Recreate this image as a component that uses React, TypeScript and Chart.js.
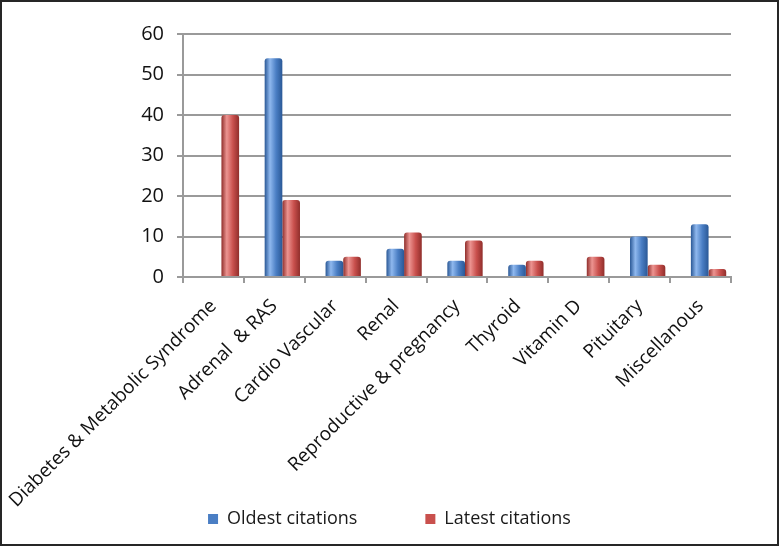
import React, { useEffect, useRef } from 'react';
import { Chart, registerables } from 'chart.js';

Chart.register(...registerables);

const categories = [
  'Diabetes & Metabolic Syndrome',
  'Adrenal  & RAS',
  'Cardio Vascular',
  'Renal',
  'Reproductive & pregnancy',
  'Thyroid',
  'Vitamin D',
  'Pituitary',
  'Miscellanous',
];
const oldestCitations = [0, 54, 4, 7, 4, 3, 0, 10, 13];
const latestCitations = [40, 19, 5, 11, 9, 4, 5, 3, 2];
const yTicks = [0, 10, 20, 30, 40, 50, 60];

const FONT = "'Open Sans', 'DejaVu Sans', sans-serif";
const CAT_PCT = 0.58;
const BLUE = { base: '#4A7EC4', light: '#8FB8EE', dark: '#2A5896' };
const RED = { base: '#C9504D', light: '#EC9491', dark: '#902E2B' };

function cylinderFill(ctx: any, pal: { base: string; light: string; dark: string }, dsIndex: number) {
  const chart = ctx.chart;
  const xs = chart.scales && chart.scales.xb;
  if (!xs || ctx.dataIndex === undefined || !isFinite(xs.width) || xs.width <= 0) return pal.base;
  const c = xs.getPixelForValue(ctx.dataIndex);
  const cat = xs.width / categories.length;
  const bw = (cat * CAT_PCT) / 2;
  const left = dsIndex === 0 ? c - bw : c;
  const g = chart.ctx.createLinearGradient(left, 0, left + bw, 0);
  g.addColorStop(0, pal.dark);
  g.addColorStop(0.3, pal.light);
  g.addColorStop(0.65, pal.base);
  g.addColorStop(1, pal.dark);
  return g;
}

const depthShift = {
  id: 'depthShift',
  afterLayout(chart: any) {
    const s = chart.scales.xb;
    if (!s) return;
    s.left += 8;
    s.right += 8;
    s.configure();
  },
};

const customLegend = {
  id: 'customLegend',
  afterDraw(chart: any) {
    const ctx = chart.ctx;
    ctx.save();
    ctx.font = `18px ${FONT}`;
    ctx.textBaseline = 'middle';
    const box = 10;
    const gapText = 9;
    const gapItems = 68;
    const items = chart.data.datasets.map((d: any) => ({ label: d.label, color: d.legendColor }));
    const widths = items.map((it: any) => box + gapText + ctx.measureText(it.label).width);
    const total = widths.reduce((a: number, b: number) => a + b, 0) + gapItems * (items.length - 1);
    let x = (chart.width - total) / 2;
    const y = chart.height - 25;
    items.forEach((it: any, i: number) => {
      ctx.fillStyle = it.color;
      ctx.fillRect(x, y - box / 2, box, box);
      ctx.fillStyle = '#1a1a1a';
      ctx.fillText(it.label, x + box + gapText, y);
      x += widths[i] + gapItems;
    });
    ctx.restore();
  },
};

export default function App() {
  const ref = useRef<HTMLCanvasElement>(null);
  useEffect(() => {
    if (!ref.current) return;
    const chart = new Chart(ref.current, {
      type: 'bar',
      data: {
        labels: categories,
        datasets: [
          {
            label: 'Oldest citations',
            data: oldestCitations,
            legendColor: BLUE.base,
            backgroundColor: (c: any) => cylinderFill(c, BLUE, 0),
            xAxisID: 'xb',
            barPercentage: 1,
            categoryPercentage: CAT_PCT,
            borderRadius: { topLeft: 3, topRight: 3 },
            borderSkipped: 'bottom',
          } as any,
          {
            label: 'Latest citations',
            data: latestCitations,
            legendColor: RED.base,
            backgroundColor: (c: any) => cylinderFill(c, RED, 1),
            xAxisID: 'xb',
            barPercentage: 1,
            categoryPercentage: CAT_PCT,
            borderRadius: { topLeft: 3, topRight: 3 },
            borderSkipped: 'bottom',
          } as any,
        ],
      },
      options: {
        responsive: false,
        animation: false,
        events: [],
        layout: { padding: { top: 32, right: 46, left: 0, bottom: 0 } },
        plugins: {
          legend: { display: false },
          tooltip: { enabled: false },
        },
        scales: {
          x: {
            type: 'category',
            position: 'bottom',
            afterFit: (s: any) => {
              s.height = 267;
              s.paddingLeft = 0;
              s.paddingRight = 0;
            },
            grid: {
              display: true,
              offset: true,
              drawOnChartArea: false,
              drawTicks: true,
              tickLength: 6,
              color: '#9a9a9a',
              lineWidth: 2,
            },
            border: { display: true, color: '#9a9a9a', width: 2 },
            ticks: {
              autoSkip: false,
              minRotation: 45,
              maxRotation: 45,
              padding: 12,
              color: '#111',
              font: { family: FONT, size: 19 },
            },
          },
          xb: {
            type: 'category',
            position: 'bottom',
            display: false,
            offset: true,
          },
          y: {
            min: 0,
            max: 60,
            afterFit: (s: any) => {
              s.width = 181;
              s.paddingTop = 0;
              s.paddingBottom = 0;
            },
            afterBuildTicks: (s: any) => {
              s.ticks = yTicks.map((v) => ({ value: v }));
            },
            grid: {
              color: '#9a9a9a',
              lineWidth: 2,
              tickLength: 6,
            },
            border: { display: true, color: '#9a9a9a', width: 2 },
            ticks: {
              padding: 13,
              color: '#111',
              font: { family: FONT, size: 20 },
            },
          },
        },
      } as any,
      plugins: [depthShift, customLegend],
    });
    return () => chart.destroy();
  }, []);
  return (
    <div
      style={{
        position: 'fixed',
        left: 0,
        top: 0,
        width: 779,
        height: 546,
        boxSizing: 'border-box',
        border: '2px solid #262626',
        background: '#fff',
      }}
    >
      <canvas ref={ref} width={775} height={542} style={{ display: 'block' }} />
    </div>
  );
}
